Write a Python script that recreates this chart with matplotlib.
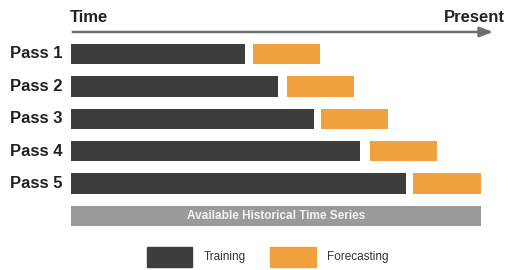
import matplotlib.pyplot as plt
from matplotlib.patches import Rectangle

# pass data (time units, 0 = start of available history)
passes = ['Pass 1', 'Pass 2', 'Pass 3', 'Pass 4', 'Pass 5']
train_end = [174, 207, 243, 289, 335]
fcst_start = [182, 216, 250, 299, 342]
fcst_end = [249, 283, 317, 366, 410]
history_end = 410

dark = '#3d3d3d'
orange = '#f0a03c'
grey = '#9a9a9a'

fig = plt.figure(figsize=(5.1, 2.7), dpi=100)
ax = fig.add_axes([0, 0, 1, 1])
ax.set_xlim(-71, 439)
# rows are 32.4 px apart, first row centred at 54 px
ax.set_ylim((270 - 54) / 32.4, (0 - 54) / 32.4)
ax.axis('off')

h = 0.63
for i, name in enumerate(passes):
    ax.barh(i, train_end[i], height=h, left=0, color=dark)
    ax.barh(i, fcst_end[i] - fcst_start[i], height=h, left=fcst_start[i], color=orange)
    ax.text(-9, i, name, ha='right', va='center', fontsize=12, fontweight='bold',
            family='Liberation Sans', color='#222222')

# available history bar
row_hist = len(passes)
ax.barh(row_hist, history_end, height=h, left=0, color=grey)
ax.text(history_end / 2, row_hist, 'Available Historical Time Series', ha='center', va='center',
        fontsize=8.5, fontweight='bold', family='Liberation Sans', color='#f4f4f4')

# time arrow
ax.annotate('', xy=(425, -0.68), xytext=(-1, -0.68),
            arrowprops=dict(arrowstyle='-|>,head_length=0.8,head_width=0.3', color='#707070', lw=1.8))
ax.text(-1, -1.14, 'Time', ha='left', va='center', fontsize=12, fontweight='bold',
        family='Liberation Sans', color='#222222')
ax.text(434, -1.14, 'Present', ha='right', va='center', fontsize=12, fontweight='bold',
        family='Liberation Sans', color='#222222')

# legend
ly = 6.27
ax.add_patch(Rectangle((76, ly - 0.31), 45, 0.62, color=dark))
ax.text(133, ly, 'Training', ha='left', va='center', fontsize=8.5, family='Liberation Sans', color='#333333')
ax.add_patch(Rectangle((199, ly - 0.31), 46, 0.62, color=orange))
ax.text(256, ly, 'Forecasting', ha='left', va='center', fontsize=8.5, family='Liberation Sans', color='#333333')

fig.savefig('out.png', dpi=100)
